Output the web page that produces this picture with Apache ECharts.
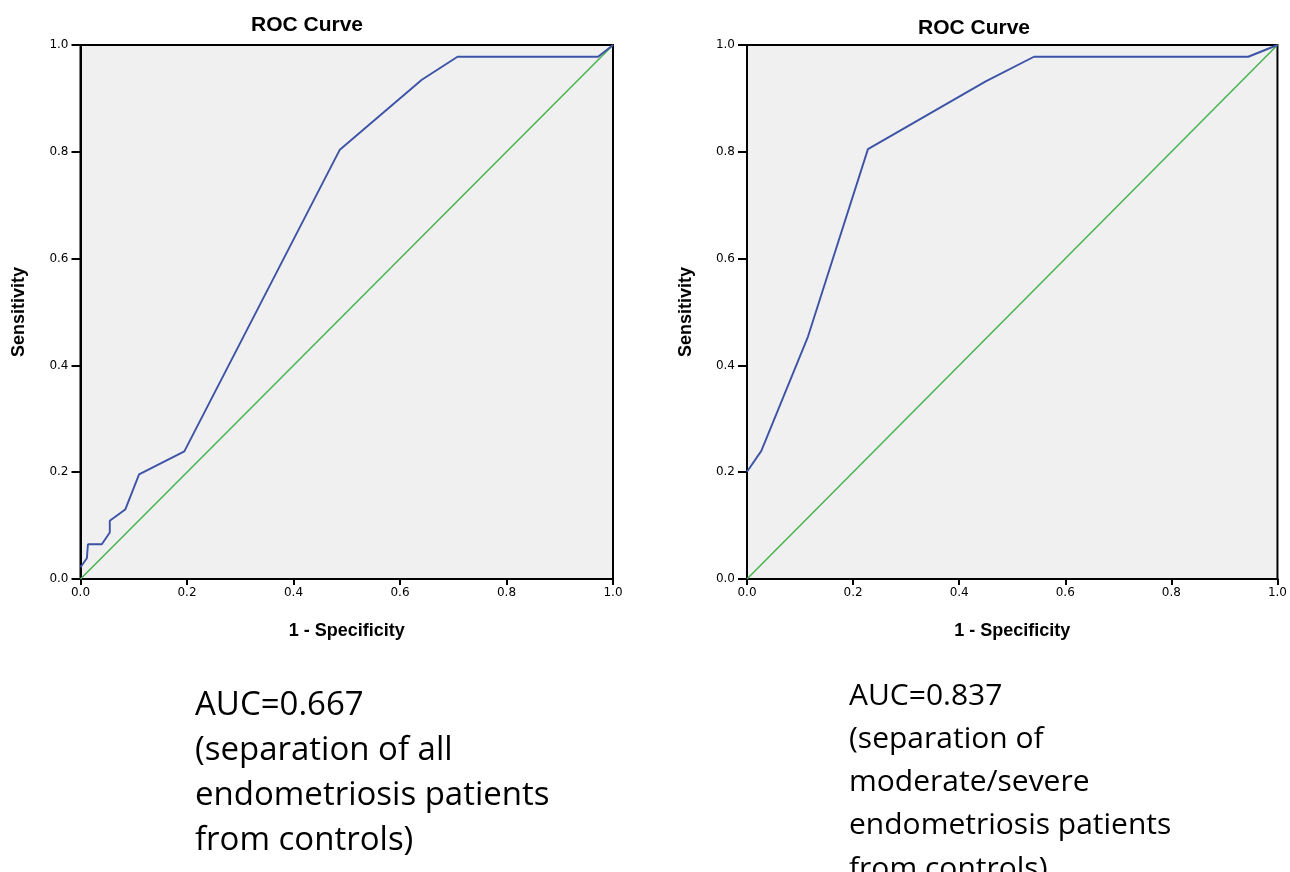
<!DOCTYPE html>
<html>
<head>
<meta charset="utf-8">
<script src="https://cdn.jsdelivr.net/npm/echarts@6/dist/echarts.min.js"></script>
<style>
html,body{margin:0;padding:0;background:#fff;}
#chart{width:1290px;height:872px;}
</style>
</head>
<body>
<div id="chart"></div>
<script>
// ---- Data ----
const tickLabels = ['0.0', '0.2', '0.4', '0.6', '0.8', '1.0'];

// Left panel: all endometriosis patients vs controls
const leftFpr = [0, 0.012, 0.014, 0.040, 0.055, 0.055, 0.084, 0.110, 0.195, 0.487, 0.641, 0.708, 0.972, 1];
const leftTpr = [0.022, 0.039, 0.065, 0.065, 0.087, 0.109, 0.130, 0.196, 0.239, 0.804, 0.935, 0.978, 0.978, 1];

// Right panel: moderate/severe endometriosis vs controls
const rightFpr = [0, 0.027, 0.115, 0.228, 0.450, 0.541, 0.945, 1];
const rightTpr = [0.201, 0.240, 0.454, 0.805, 0.932, 0.978, 0.978, 1];

// Reference diagonal
const refX = [0, 1];
const refY = [0, 1];

const titles = ['ROC Curve', 'ROC Curve'];
const xName = '1 - Specificity';
const yName = 'Sensitivity';
const leftNote = ['AUC=0.667', '(separation of all', 'endometriosis patients', 'from controls)'];
const rightNote = ['AUC=0.837', '(separation of', 'moderate/severe', 'endometriosis patients', 'from controls)'];

// ---- Build ----
const zip = (xs, ys) => xs.map((x, i) => [x, ys[i]]);
const BLUE = '#3d53a6';
const GREEN = '#45b34e';
const tickFont = { fontFamily: 'DejaVu Sans', fontSize: 12, color: '#000' };
const nameFont = { fontFamily: 'Liberation Sans', fontSize: 18, fontWeight: 'bold', color: '#000' };

function xAxis(gi) {
  return {
    gridIndex: gi, type: 'value', min: 0, max: 1, interval: 0.2,
    name: xName, nameLocation: 'middle', nameGap: 43, nameTextStyle: nameFont,
    axisLine: { show: true, onZero: false, lineStyle: { color: '#000', width: 2 } },
    axisTick: { show: true, length: 6, lineStyle: { color: '#000', width: 2 } },
    axisLabel: { ...tickFont, margin: 8, formatter: v => tickLabels[Math.round(v * 5)] },
    splitLine: { show: false }
  };
}
function yAxis(gi) {
  return {
    gridIndex: gi, type: 'value', min: 0, max: 1, interval: 0.2,
    name: yName, nameLocation: 'middle', nameGap: 52, nameTextStyle: nameFont,
    axisLine: { show: true, onZero: false, lineStyle: { color: '#000', width: 2 } },
    axisTick: { show: true, length: 9, lineStyle: { color: '#000', width: 2 } },
    axisLabel: { ...tickFont, margin: 12, formatter: v => tickLabels[Math.round(v * 5)] },
    splitLine: { show: false }
  };
}
function gridBox(left, right) {
  return { left: left, right: right, top: 45, bottom: 293, show: true,
           backgroundColor: '#f0f0f0', borderColor: '#000', borderWidth: 2 };
}
function lineSeries(gi, data, color, w) {
  return { type: 'line', xAxisIndex: gi, yAxisIndex: gi, data: data,
           showSymbol: false, symbol: 'none', animation: false,
           lineStyle: { color: color, width: w } };
}
function noteText(lines, x, y0, size, gap) {
  return lines.map((t, i) => ({
    type: 'text', left: x, top: y0 + i * gap,
    style: { text: t, fontFamily: 'Open Sans', fontSize: size, fill: '#000' }
  }));
}

const chart = echarts.init(document.getElementById('chart'), null, { renderer: 'canvas' });
chart.setOption({
  animation: false,
  backgroundColor: '#fff',
  grid: [gridBox(80.5, 677), gridBox(747, 11)],
  xAxis: [xAxis(0), xAxis(1)],
  yAxis: [yAxis(0), yAxis(1)],
  series: [
    lineSeries(0, zip(refX, refY), GREEN, 1.5),
    lineSeries(0, zip(leftFpr, leftTpr), BLUE, 1.9),
    lineSeries(1, zip(refX, refY), GREEN, 1.5),
    lineSeries(1, zip(rightFpr, rightTpr), BLUE, 1.9)
  ],
  graphic: [
    { type: 'text', x: 307, y: 15, style: { text: titles[0], fontFamily: 'Liberation Sans', fontSize: 21, fontWeight: 'bold', fill: '#000', textAlign: 'center' } },
    { type: 'text', x: 974, y: 18, style: { text: titles[1], fontFamily: 'Liberation Sans', fontSize: 21, fontWeight: 'bold', fill: '#000', textAlign: 'center' } },
    ...noteText(leftNote, 195, 689, 33, 45),
    ...noteText(rightNote, 849, 681, 30, 43.3)
  ]
});
</script>
</body>
</html>
